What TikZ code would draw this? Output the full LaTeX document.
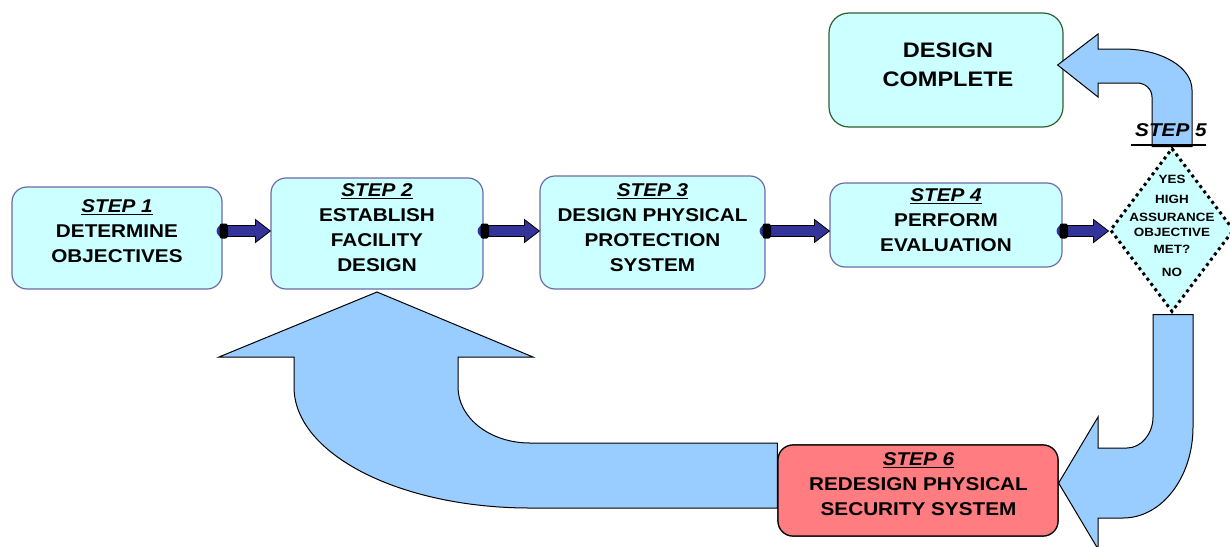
\documentclass[tikz,border=0pt]{standalone}
\usepackage{fontspec}
\setmainfont{Liberation Sans}[FakeStretch=1.12]
\usetikzlibrary{shapes.geometric,calc}

\definecolor{boxfill}{HTML}{CCFFFF}
\definecolor{boxline}{HTML}{6B6BA8}
\definecolor{doneline}{HTML}{2F5F2F}
\definecolor{redofill}{HTML}{FF7C80}
\definecolor{bigarrow}{HTML}{99CCFF}
\definecolor{linkblue}{HTML}{333399}

% dark block arrow between two boxes, at height #3
\newcommand\linkarrow[3]{%
  \coordinate (la-s) at (#1.east |- 0,#3);
  \coordinate (la-e) at (#2.west |- 0,#3);
  \fill[linkblue] (la-s) circle[radius=6pt];
  \filldraw[fill=linkblue, draw=black, line width=0.8pt]
    ($(la-s)+(5,-5.5)$) -- ($(la-e)+(-15,-5.5)$) -- ($(la-e)+(-15,-11.5)$) --
    (la-e) -- ($(la-e)+(-15,11.5)$) -- ($(la-e)+(-15,5.5)$) -- ($(la-s)+(5,5.5)$) -- cycle;
  \fill[black, rounded corners=2pt] ($(la-s)+(-3,-7.5)$) rectangle ($(la-s)+(5,7.5)$);
}

\begin{document}
\begin{tikzpicture}[x=1pt,y=-1pt,
  stepbox/.style={draw=boxline, line width=1.2pt, fill=boxfill, rounded corners=15pt, inner sep=0pt},
  steptext/.style={font=\bfseries\fontsize{18.5}{25}\selectfont, align=center, inner sep=0pt},
  blockarrow/.style={fill=bigarrow, draw=black, line width=1pt, line join=miter}]
\useasboundingbox (0,0) rectangle (1230,546);
\clip (0,0) rectangle (1230,546);

% loop-back arrow from step 6 to step 2 (drawn first, it sits behind step 6)
\node[stepbox, minimum width=212pt, minimum height=111pt] (s2) at (377,233.5) {};
\node[stepbox, draw=black, fill=redofill, minimum width=280pt, minimum height=91pt] (s6) at (918,490.5) {};
\filldraw[blockarrow]
  (s6.west |- 0,443) -- (530,443)
  .. controls (490,443) and (458,418) .. (458,387) -- (458,357) -- (533,357)
  -- (s2.south |- 0,292) -- (219,357) -- (294,357) -- (294,387)
  .. controls (294,454) and (400,508) .. (530,508) -- (s6.west |- 0,508) -- cycle;
\node[stepbox, draw=black, fill=redofill, minimum width=280pt, minimum height=91pt] at (s6) {};

% process boxes
\node[stepbox, minimum width=210pt, minimum height=102pt] (s1) at (117,238) {};
\node[stepbox, minimum width=225pt, minimum height=113pt] (s3) at (652.5,232.5) {};
\node[stepbox, minimum width=232pt, minimum height=84pt] (s4) at (946,225) {};
\node[stepbox, draw=doneline, rounded corners=20pt, minimum width=234pt, minimum height=114pt] (done) at (946,70) {};

% decision diamond
\node[diamond, draw=black, fill=boxfill, line width=3pt, dash pattern=on 3pt off 3.6pt,
      inner sep=0pt, minimum width=124pt, minimum height=164pt] (d) at (1172,230) {};

% arrows along the main row
\linkarrow{s1}{s2}{231}
\linkarrow{s2}{s3}{231}
\linkarrow{s3}{s4}{231}
\linkarrow{s4}{d}{231}

% YES: up and over to the finished design
\filldraw[blockarrow]
  ($(d.north)+(-20,0)$) -- (1152,97)
  .. controls (1152,89) and (1145,83) .. (1137,83) -- (1098,83) -- (1098,97)
  -- ($(done.east |- 0,65)+(-6,0)$) -- (1098,34) -- (1098,49) -- (1123,49)
  .. controls (1161,49) and (1192,67) .. (1192,90) -- ($(d.north)+(20,0)$) -- cycle;

% NO: down and back to the redesign step
\filldraw[blockarrow]
  ($(d.south)+(-19,1)$) -- (1153,417)
  .. controls (1153,434) and (1141,448) .. (1127,448) -- (1098,448) -- (1098,417)
  -- (s6.east |- 0,483) -- (1098,549) -- (1098,518) -- (1123,518)
  .. controls (1162,518) and (1193,477) .. (1193,427) -- ($(d.south)+(21,1)$) -- cycle;

% texts
\node[steptext] (t1) at (117,231.5) {\underline{\textit{STEP 1}}\\DETERMINE\\OBJECTIVES};
\node[steptext] (t2) at (377,228) {\underline{\textit{STEP 2}}\\ESTABLISH\\FACILITY\\DESIGN};
\node[steptext] (t3) at (652.5,227.5) {\underline{\textit{STEP 3}}\\DESIGN PHYSICAL\\PROTECTION\\SYSTEM};
\node[steptext] (t4) at (946,220.5) {\underline{\textit{STEP 4}}\\PERFORM\\EVALUATION};
\node[steptext] (t6) at (918.5,484.5) {\underline{\textit{STEP 6}}\\REDESIGN PHYSICAL\\SECURITY SYSTEM};
\node[steptext, font=\bfseries\fontsize{21}{29}\selectfont] (tdone) at (948,65) {DESIGN\\COMPLETE};
\node[steptext, font=\bfseries\fontsize{12}{16}\selectfont] (td) at (1172,226)
  {YES\\[4pt]HIGH\\[2pt]ASSURANCE\\[-1pt]OBJECTIVE\\[1pt]MET?\\[7pt]NO};
\node[steptext] (l5) at (1171,130) {\textit{STEP 5}};
\draw[line width=1.6pt] ($(l5.south west)+(-4,8)$) -- ($(l5.south east)+(-1,8)$);
\end{tikzpicture}
\end{document}
